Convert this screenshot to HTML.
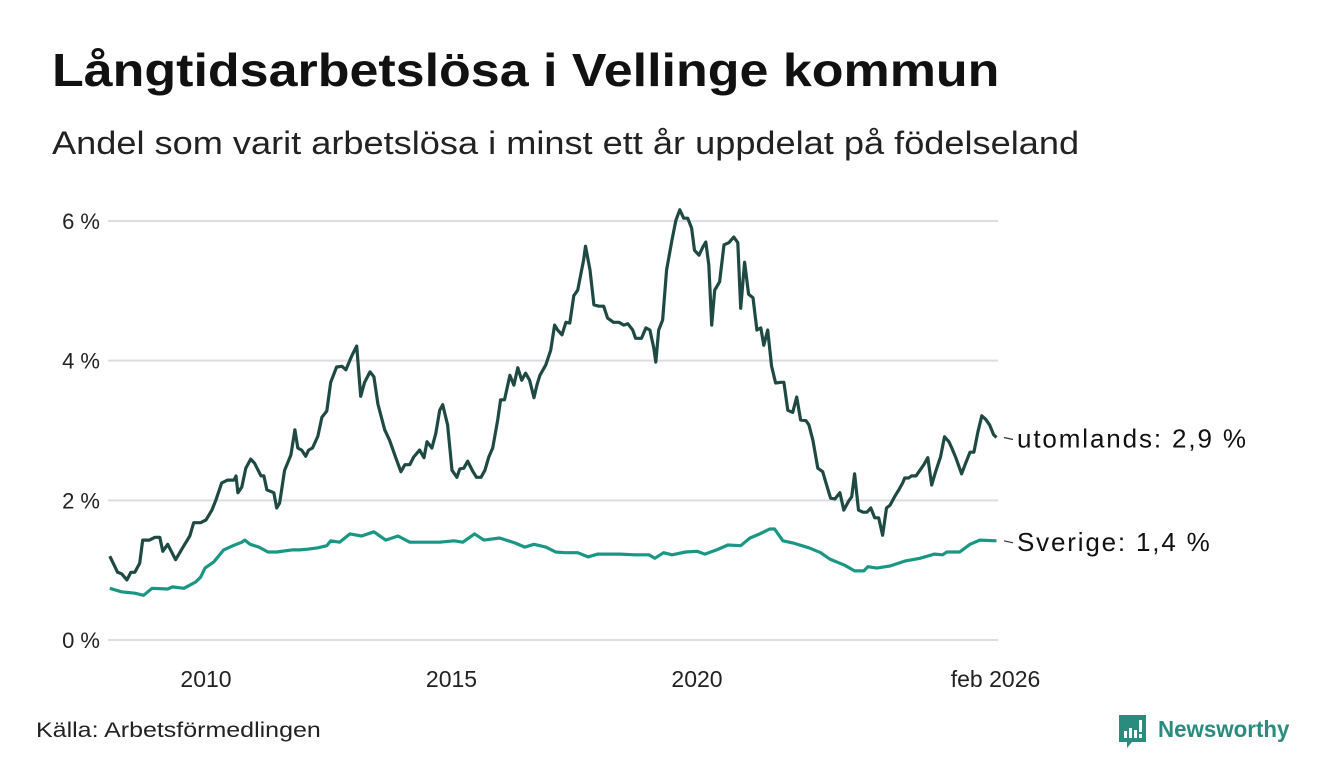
<!DOCTYPE html>
<html><head><meta charset="utf-8"><style>
body{margin:0;width:1340px;height:780px;background:#fff;font-family:"Liberation Sans",sans-serif;overflow:hidden;position:relative;color:#111}
.t{position:absolute;white-space:nowrap;transform-origin:0 0}
</style></head><body>
<div class="t" style="left:52px;top:43px;font-size:46px;font-weight:bold;color:#111;transform:scaleX(1.13)">Långtidsarbetslösa i Vellinge kommun</div>
<div class="t" style="left:52px;top:125px;font-size:32px;color:#222;transform:scaleX(1.13)">Andel som varit arbetslösa i minst ett år uppdelat på födelseland</div>
<div class="t" style="left:36px;top:719px;font-size:21px;color:#222;transform:scaleX(1.19)">Källa: Arbetsförmedlingen</div>
<div style="position:absolute;left:1118px;top:714px;width:180px;height:36px">
<svg width="30" height="36" style="position:absolute;left:0;top:0"><path d="M1 1h27v27H14l-5 6v-6H1z" fill="#2a8c7f"/><rect x="6" y="17" width="3" height="7" fill="#fff"/><rect x="11" y="14" width="3" height="10" fill="#fff"/><rect x="16" y="16" width="3" height="8" fill="#fff"/><rect x="21" y="6" width="3" height="12" fill="#fff"/><rect x="21" y="20" width="3" height="4" fill="#fff"/></svg>
<div class="t" style="left:40px;top:2px;font-size:23px;font-weight:bold;color:#2a8c7f;transform:scaleX(0.97)">Newsworthy</div></div>
<svg id="chart" width="1340" height="780" style="position:absolute;left:0;top:0"></svg>
<script>
const yTicks=[0,2,4,6];
const yTickLabels=["0 %","2 %","4 %","6 %"];
const xTicks=[2010,2015,2020,2026.08];
const xTickLabels=["2010","2015","2020","feb 2026"];
const utDates=[2008.04,2008.20,2008.28,2008.39,2008.47,2008.55,2008.65,2008.71,2008.85,2008.96,2009.06,2009.12,2009.22,2009.38,2009.55,2009.67,2009.75,2009.89,2010.00,2010.12,2010.20,2010.32,2010.44,2010.57,2010.61,2010.65,2010.73,2010.81,2010.91,2010.99,2011.12,2011.18,2011.24,2011.38,2011.44,2011.50,2011.60,2011.73,2011.81,2011.87,2011.95,2012.03,2012.09,2012.17,2012.28,2012.36,2012.46,2012.54,2012.66,2012.77,2012.85,2012.97,2013.07,2013.15,2013.23,2013.34,2013.42,2013.50,2013.64,2013.74,2013.86,2013.97,2014.05,2014.15,2014.23,2014.35,2014.44,2014.50,2014.60,2014.68,2014.76,2014.82,2014.92,2015.01,2015.11,2015.17,2015.25,2015.33,2015.43,2015.51,2015.60,2015.68,2015.76,2015.84,2015.94,2016.00,2016.08,2016.19,2016.27,2016.35,2016.43,2016.51,2016.59,2016.68,2016.74,2016.80,2016.92,2017.02,2017.10,2017.16,2017.25,2017.33,2017.41,2017.49,2017.57,2017.69,2017.73,2017.82,2017.90,2018.00,2018.10,2018.18,2018.30,2018.41,2018.51,2018.59,2018.69,2018.75,2018.87,2018.96,2019.04,2019.12,2019.16,2019.22,2019.30,2019.38,2019.49,2019.57,2019.65,2019.73,2019.81,2019.89,2019.95,2020.04,2020.12,2020.18,2020.24,2020.30,2020.36,2020.46,2020.55,2020.65,2020.75,2020.83,2020.89,2020.97,2021.05,2021.14,2021.22,2021.30,2021.36,2021.44,2021.52,2021.60,2021.71,2021.77,2021.85,2021.95,2022.03,2022.11,2022.22,2022.28,2022.36,2022.46,2022.56,2022.64,2022.72,2022.81,2022.91,2022.99,2023.09,2023.15,2023.21,2023.29,2023.38,2023.46,2023.54,2023.62,2023.70,2023.78,2023.86,2023.93,2024.03,2024.11,2024.19,2024.23,2024.31,2024.37,2024.46,2024.54,2024.62,2024.70,2024.78,2024.86,2024.96,2025.04,2025.13,2025.19,2025.27,2025.39,2025.47,2025.56,2025.64,2025.72,2025.80,2025.88,2025.96,2026.04,2026.10];
const utValues=[1.20,0.97,0.95,0.86,0.97,0.97,1.10,1.43,1.43,1.47,1.47,1.27,1.37,1.15,1.35,1.49,1.68,1.68,1.72,1.86,2.00,2.25,2.29,2.29,2.35,2.11,2.19,2.46,2.59,2.53,2.35,2.35,2.15,2.11,1.89,1.96,2.43,2.65,3.01,2.75,2.72,2.63,2.72,2.75,2.92,3.19,3.28,3.69,3.91,3.92,3.87,4.07,4.21,3.49,3.69,3.84,3.77,3.38,3.01,2.86,2.62,2.41,2.51,2.51,2.62,2.72,2.61,2.84,2.75,2.96,3.29,3.37,3.08,2.43,2.33,2.45,2.46,2.56,2.42,2.33,2.33,2.43,2.62,2.75,3.15,3.44,3.44,3.79,3.65,3.90,3.72,3.82,3.72,3.47,3.65,3.79,3.94,4.15,4.51,4.44,4.37,4.55,4.54,4.93,5.01,5.44,5.64,5.30,4.80,4.78,4.78,4.61,4.55,4.55,4.51,4.53,4.44,4.32,4.32,4.47,4.44,4.18,3.98,4.44,4.58,5.30,5.73,6.01,6.16,6.04,6.04,5.90,5.58,5.51,5.63,5.70,5.37,4.51,5.01,5.13,5.66,5.69,5.77,5.69,4.75,5.41,4.95,4.90,4.44,4.47,4.22,4.44,3.92,3.68,3.69,3.69,3.29,3.26,3.48,3.15,3.14,3.08,2.86,2.46,2.41,2.22,2.03,2.02,2.11,1.86,1.99,2.05,2.38,1.86,1.83,1.83,1.89,1.75,1.75,1.50,1.89,1.93,2.06,2.15,2.25,2.32,2.32,2.35,2.35,2.43,2.51,2.61,2.22,2.41,2.62,2.91,2.84,2.75,2.61,2.38,2.53,2.69,2.69,2.98,3.21,3.16,3.08,2.94,2.90];
const svDates=[2008.04,2008.28,2008.55,2008.73,2008.90,2009.22,2009.32,2009.55,2009.79,2009.89,2009.98,2010.16,2010.36,2010.55,2010.73,2010.79,2010.90,2011.08,2011.26,2011.44,2011.75,2011.91,2012.07,2012.28,2012.46,2012.54,2012.72,2012.93,2013.17,2013.42,2013.66,2013.91,2014.15,2014.46,2014.76,2015.05,2015.23,2015.47,2015.66,2015.98,2016.29,2016.49,2016.68,2016.92,2017.12,2017.31,2017.57,2017.78,2017.98,2018.26,2018.43,2018.73,2019.02,2019.14,2019.32,2019.49,2019.77,2020.00,2020.16,2020.40,2020.63,2020.89,2021.08,2021.28,2021.48,2021.58,2021.75,2021.95,2022.28,2022.52,2022.70,2023.01,2023.21,2023.40,2023.48,2023.66,2023.93,2024.23,2024.54,2024.84,2025.00,2025.09,2025.35,2025.56,2025.76,2026.10];
const svValues=[0.74,0.69,0.67,0.64,0.74,0.73,0.76,0.74,0.83,0.90,1.03,1.12,1.29,1.35,1.40,1.43,1.37,1.33,1.26,1.26,1.29,1.29,1.30,1.32,1.35,1.42,1.40,1.52,1.49,1.55,1.43,1.49,1.40,1.40,1.40,1.42,1.40,1.52,1.43,1.46,1.39,1.33,1.37,1.33,1.26,1.25,1.25,1.19,1.23,1.23,1.23,1.22,1.22,1.17,1.25,1.22,1.26,1.27,1.23,1.29,1.36,1.35,1.46,1.52,1.59,1.59,1.42,1.39,1.32,1.25,1.16,1.07,0.99,0.99,1.05,1.03,1.06,1.13,1.17,1.23,1.22,1.26,1.26,1.37,1.43,1.42];
const seriesLabels=["utomlands: 2,9 %","Sverige: 1,4 %"];

const NS="http://www.w3.org/2000/svg";
const svg=document.getElementById('chart');
const X=t=>206+(t-2010)*49.1;
const Y=v=>640-v*69.83;
function mk(tag,attrs,parent){const e=document.createElementNS(NS,tag);for(const k in attrs)e.setAttribute(k,attrs[k]);(parent||svg).appendChild(e);return e;}
yTicks.forEach((v,i)=>{
  const g=mk('line',{x1:108,x2:998,y1:Y(v),y2:Y(v),stroke:'#dcdce3','stroke-width':2});
  
  
  const t=mk('text',{x:100,y:Y(v)+8,'text-anchor':'end','font-size':22,fill:'#222','font-family':'Liberation Sans, sans-serif'});
  t.textContent=yTickLabels[i];
  
  
});
xTicks.forEach((v,i)=>{
  const t=mk('text',{x:X(v),y:687,'text-anchor':'middle','font-size':23,fill:'#222','font-family':'Liberation Sans, sans-serif'});
  t.textContent=xTickLabels[i];
  
  
});
function line(dates,vals,color,name,label){
  const d=dates.map((t,i)=>(i?'L':'M')+X(t).toFixed(1)+','+Y(vals[i]).toFixed(1)).join('');
  const p=mk('path',{d:d,fill:'none',stroke:color,'stroke-width':3.2,'stroke-linejoin':'round'});
  
  
  const ly=Y(vals[vals.length-1]);
  mk('line',{x1:1004,x2:1013,y1:ly,y2:ly+2,stroke:'#333','stroke-width':1.2});
  const t=mk('text',{x:1017,y:ly+10,'font-size':26,fill:'#111','font-family':'Liberation Sans, sans-serif'});
  t.textContent=label;
  
  
  const w=t.getComputedTextLength();
  t.setAttribute('textLength',(w*1.14).toFixed(1));
}
line(svDates,svValues,'#1a9685','sverige-line',seriesLabels[1]);
line(utDates,utValues,'#1f4a44','utomlands-line',seriesLabels[0]);
</script>
</body></html>
